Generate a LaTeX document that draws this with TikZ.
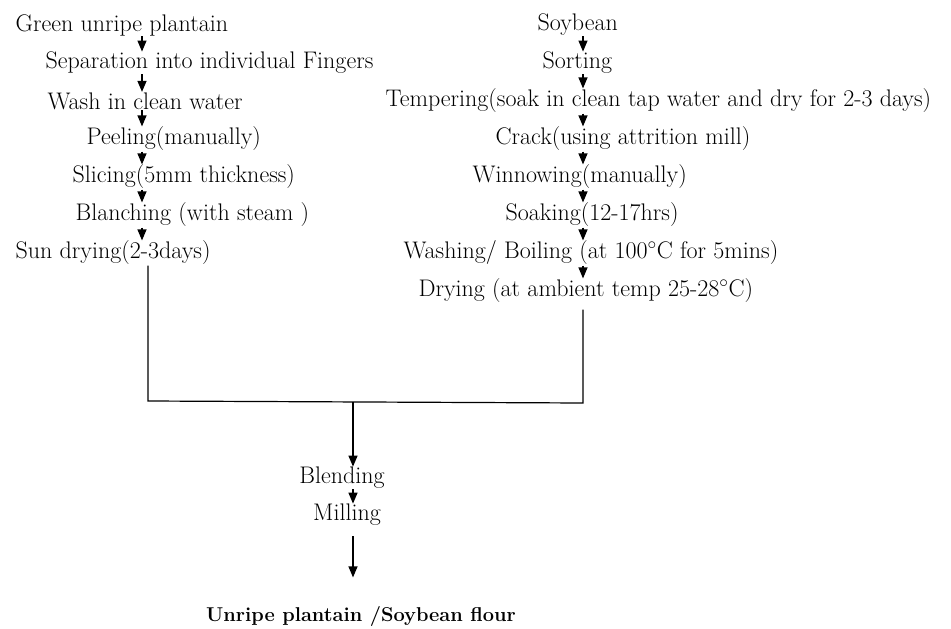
\documentclass[tikz,border=0pt]{standalone}
\usepackage{tikz}
\usetikzlibrary{arrows.meta}
\tikzset{
  stage/.style={anchor=west, inner sep=0pt, font=\fontsize{24}{28}\selectfont},
  flow/.style={-{Triangle[width=9pt, length=11pt]}, line width=1.2pt},
}
\begin{document}
\begin{tikzpicture}[x=1pt, y=-1pt, line width=1.2pt]
  \useasboundingbox (0,0) rectangle (951,629);
  \coordinate (xl) at (142,0);
  \coordinate (xr) at (583,0);
  % plantain side
  \foreach \k/\x/\t in {0/15/{Green unripe plantain},
      1/45/{Separation into individual Fingers},
      2/47/{Wash in clean water},
      3/86/{Peeling(manually)},
      4/72/{Slicing(5mm thickness)},
      5/75/{Blanching (with steam )},
      6/15/{Sun drying(2-3days)}}{
    \node[stage] (l\k) at (\x, 25+38*\k) {\t};
  }
  % soybean side
  \foreach \k/\x/\t in {0/537/{Soybean},
      1/542/{Sorting},
      2/385/{Tempering(soak in clean tap water and dry for 2-3 days)},
      3/495/{Crack(using attrition mill)},
      4/472/{Winnowing(manually)},
      5/505/{Soaking(12-17hrs)},
      6/403/{Washing/ Boiling (at 100$^\circ$C for 5mins)},
      7/418/{Drying (at ambient temp 25-28$^\circ$C)}}{
    \node[stage] (r\k) at (\x, 25+38*\k) {\t};
  }
  \foreach \k [evaluate=\k as \j using int(\k+1)] in {0,...,5}
    \draw[flow] (l\k.south -| xl) -- (l\j.north -| xl);
  \foreach \k [evaluate=\k as \j using int(\k+1)] in {0,...,6}
    \draw[flow] (r\k.south -| xr) -- (r\j.north -| xr);
  % merge
  \coordinate (jl) at (148,401);
  \coordinate (jr) at (583,403);
  \coordinate (jm) at (353,402);
  \draw (l6.south -| jl) -- (jl) -- (jr) -- ([yshift=-6pt]r7.south -| jr);
  \node[stage, anchor=center] (blend) at (342,478) {Blending};
  \node[stage, anchor=center] (mill) at (347,515) {Milling};
  \node[stage, anchor=center, font=\fontsize{20}{24}\selectfont\bfseries]
    (flour) at (361,616) {Unripe plantain /Soybean flour};
  \draw[flow] (jm) -- (blend.north -| jm);
  \draw[flow] (blend.south -| jm) -- (mill.north -| jm);
  \draw[flow, shorten <=10pt, shorten >=28pt] (mill.south -| jm) -- (flour.north -| jm);
\end{tikzpicture}
\end{document}
